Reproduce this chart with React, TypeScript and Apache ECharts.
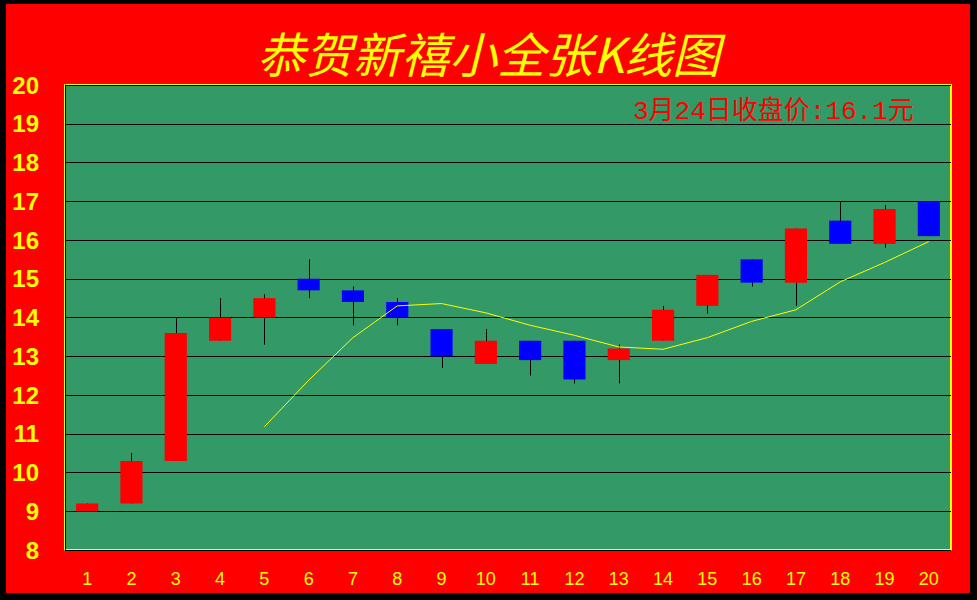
import React, { useEffect, useRef } from 'react';
import * as echarts from 'echarts';

const days = ['1', '2', '3', '4', '5', '6', '7', '8', '9', '10', '11', '12', '13', '14', '15', '16', '17', '18', '19', '20'];
const openPrices = [9.0, 9.2, 10.3, 13.4, 14.0, 15.0, 14.7, 14.4, 13.7, 12.8, 13.4, 13.4, 12.9, 13.4, 14.3, 15.5, 14.9, 16.5, 15.9, 17.0];
const closePrices = [9.2, 10.3, 13.6, 14.0, 14.5, 14.7, 14.4, 14.0, 13.0, 13.4, 12.9, 12.4, 13.2, 14.2, 15.1, 14.9, 16.3, 15.9, 16.8, 16.1];
const lowPrices = [9.0, 9.2, 10.3, 13.4, 13.3, 14.5, 13.8, 13.8, 12.7, 12.8, 12.5, 12.3, 12.3, 13.4, 14.1, 14.8, 14.3, 15.9, 15.8, 16.1];
const highPrices = [9.2, 10.5, 14.0, 14.5, 14.6, 15.5, 14.8, 14.5, 13.7, 13.7, 13.4, 13.4, 13.3, 14.3, 15.1, 15.5, 16.3, 17.0, 16.9, 17.0];
const maLine = [null, null, null, null, 11.18, 12.38, 13.48, 14.3, 14.36, 14.12, 13.8, 13.54, 13.24, 13.18, 13.48, 13.9, 14.2, 14.92, 15.42, 15.96];
const titleText = '恭贺新禧小全张K线图';
const noteText = '3月24日收盘价:16.1元';

export default function App() {
  const ref = useRef<HTMLDivElement>(null);
  useEffect(() => {
    const chart = echarts.init(ref.current!, null, { renderer: 'svg' });
    const candleData = days.map((_, i) => [i, openPrices[i], closePrices[i], lowPrices[i], highPrices[i]]);
    chart.setOption({
      animation: false,
      backgroundColor: '#FF0000',
      title: {
        text: titleText,
        left: 'center',
        top: 28,
        padding: 0,
        textStyle: {
          color: '#FFFF00',
          fontSize: 48,
          lineHeight: 48,
          fontStyle: 'italic',
          fontWeight: 'normal',
          fontFamily: '"Noto Sans CJK SC", sans-serif',
        },
      },
      grid: {
        left: 65,
        right: 26,
        top: 85,
        bottom: 50,
        show: true,
        backgroundColor: '#339966',
        borderColor: '#FFFF00',
        borderWidth: 2,
      },
      xAxis: {
        type: 'category',
        data: days,
        boundaryGap: true,
        axisLine: { show: true, lineStyle: { color: '#000', width: 1 } },
        axisTick: { show: false },
        splitLine: { show: false },
        axisLabel: {
          color: '#FFFF00',
          fontSize: 18,
          fontFamily: 'Arial, "Liberation Sans", sans-serif',
          margin: 20,
        },
      },
      yAxis: {
        type: 'value',
        min: 8,
        max: 20,
        interval: 1,
        axisLine: { show: true, lineStyle: { color: '#000', width: 1 } },
        axisTick: { show: false },
        splitLine: { show: true, lineStyle: { color: '#000', width: 1 } },
        axisLabel: {
          color: '#FFFF00',
          fontSize: 24,
          fontWeight: 'bold',
          fontFamily: 'Arial, "Liberation Sans", sans-serif',
          margin: 26,
          padding: [6, 0, 0, 0],
        },
      },
      graphic: [
        {
          type: 'text',
          x: 633,
          y: 112,
          style: {
            text: noteText,
            fill: '#FF0000',
            fontSize: 26,
            fontFamily: '"Liberation Mono", "Noto Sans CJK SC", monospace',
            textAlign: 'left',
            textVerticalAlign: 'middle',
          },
          z: 100,
        },
      ],
      series: [
        {
          type: 'custom',
          name: 'K线',
          data: candleData,
          encode: { x: 0, y: [1, 2, 3, 4] },
          renderItem: (params: any, api: any) => {
            const idx = api.value(0);
            const o = api.value(1);
            const c = api.value(2);
            const lo = api.value(3);
            const hi = api.value(4);
            const pO = api.coord([idx, o]);
            const pC = api.coord([idx, c]);
            const pL = api.coord([idx, lo]);
            const pH = api.coord([idx, hi]);
            const w = api.size([1, 0])[0] * 0.5;
            const cx = Math.round(pO[0]) + 0.5;
            const top = Math.min(pO[1], pC[1]);
            const h = Math.abs(pO[1] - pC[1]);
            const color = c >= o ? '#FF0000' : '#0000FF';
            return {
              type: 'group',
              children: [
                {
                  type: 'line',
                  shape: { x1: cx, y1: pH[1], x2: cx, y2: pL[1] },
                  style: { stroke: '#000', lineWidth: 1 },
                },
                {
                  type: 'rect',
                  shape: { x: pO[0] - w / 2, y: top, width: w, height: Math.max(h, 1) },
                  style: { fill: color, stroke: null },
                },
              ],
            };
          },
          z: 2,
        },
        {
          type: 'line',
          name: 'MA',
          data: maLine,
          showSymbol: false,
          symbol: 'none',
          smooth: false,
          lineStyle: { color: '#FFFF00', width: 1 },
          z: 3,
        },
      ],
    });
    return () => chart.dispose();
  }, []);
  return (
    <div style={{ position: 'fixed', left: 0, top: 0, width: 977, height: 600 }}>
      <div ref={ref} style={{ position: 'absolute', left: 0, top: 0, width: 977, height: 600 }} />
      <div
        style={{
          position: 'absolute',
          left: 0,
          top: 0,
          width: 977,
          height: 600,
          boxSizing: 'border-box',
          borderStyle: 'solid',
          borderColor: '#000',
          borderWidth: '4px 7px 7px 6px',
          pointerEvents: 'none',
        }}
      />
    </div>
  );
}
